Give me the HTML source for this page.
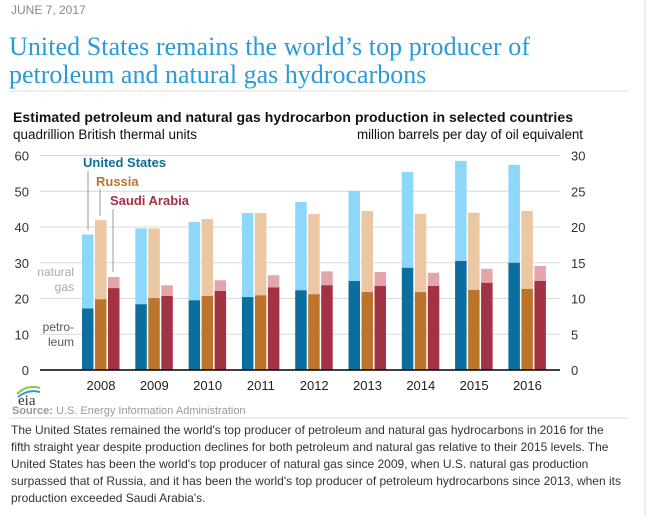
<!DOCTYPE html>
<html><head><meta charset="utf-8"><style>
body{margin:0;background:#fff;width:649px;height:516px;overflow:hidden;font-family:"Liberation Sans",sans-serif;}
</style></head><body>
<svg width="649" height="516" xmlns="http://www.w3.org/2000/svg">
<line x1="645" y1="0" x2="645" y2="516" stroke="#ddd"/>
<text x="11" y="14" font-size="12" fill="#888">JUNE 7, 2017</text>
<text x="9" y="55" font-family="Liberation Serif,serif" font-size="26" fill="#2A9BD8" textLength="521">United States remains the world’s top producer of</text>
<text x="9" y="83" font-family="Liberation Serif,serif" font-size="26" fill="#2A9BD8">petroleum and natural gas hydrocarbons</text>
<line x1="9" y1="91" x2="628" y2="91" stroke="#ddd"/>
<text x="13" y="122" font-size="14" font-weight="bold" fill="#111" textLength="560">Estimated petroleum and natural gas hydrocarbon production in selected countries</text>
<text x="13" y="139" font-size="13.5" fill="#111" textLength="184">quadrillion British thermal units</text>
<text x="357" y="139" font-size="13.4" fill="#111" textLength="226">million barrels per day of oil equivalent</text>
<g id="chart"></g>
<text x="83" y="167" font-size="13" font-weight="bold" fill="#0B6E9F">United States</text>
<text x="96" y="186" font-size="13" font-weight="bold" fill="#BC742B">Russia</text>
<text x="110" y="205" font-size="13" font-weight="bold" fill="#A23244">Saudi Arabia</text>
<line x1="88" y1="171" x2="88" y2="230" stroke="#999"/>
<line x1="100" y1="189" x2="100" y2="216" stroke="#999"/>
<line x1="113" y1="209" x2="113" y2="272" stroke="#999"/>
<text x="74" y="276" font-size="12" fill="#aaa" text-anchor="end">natural</text>
<text x="74" y="291" font-size="12" fill="#aaa" text-anchor="end">gas</text>
<text x="74" y="331" font-size="12" fill="#555" text-anchor="end">petro-</text>
<text x="74" y="346" font-size="12" fill="#555" text-anchor="end">leum</text>
<g>
<path d="M17 394 Q27 384 40 388" stroke="#8DC63F" stroke-width="2" fill="none"/>
<path d="M18 397 Q28 389 40 392" stroke="#2A9BD8" stroke-width="2" fill="none"/>
<text x="18" y="405" font-family="Liberation Serif,serif" font-size="15" fill="#333">eia</text>
</g>
<text x="12" y="414" font-size="11" fill="#999"><tspan font-weight="bold">Source:</tspan> U.S. Energy Information Administration</text>
<line x1="9" y1="418" x2="628" y2="418" stroke="#ddd"/>
<g font-size="12" fill="#333">
<text x="11" y="434">The United States remained the world's top producer of petroleum and natural gas hydrocarbons in 2016 for the</text>
<text x="11" y="451">fifth straight year despite production declines for both petroleum and natural gas relative to their 2015 levels. The</text>
<text x="11" y="468">United States has been the world's top producer of natural gas since 2009, when U.S. natural gas production</text>
<text x="11" y="485">surpassed that of Russia, and it has been the world's top producer of petroleum hydrocarbons since 2013, when its</text>
<text x="11" y="502">production exceeded Saudi Arabia's.</text>
</g>
</svg>
<script>
const years=["2008","2009","2010","2011","2012","2013","2014","2015","2016"];
const usPet=[17.2,18.4,19.5,20.4,22.3,24.9,28.6,30.5,30.0];
const usTot=[37.9,39.6,41.4,43.9,47.0,50.1,55.4,58.5,57.4];
const ruPet=[19.8,20.1,20.7,20.9,21.2,21.8,21.8,22.4,22.7];
const ruTot=[41.9,39.6,42.2,43.9,43.6,44.5,43.7,44.0,44.5];
const saPet=[22.9,20.7,22.1,23.1,23.7,23.5,23.5,24.4,24.9];
const saTot=[26.0,23.7,25.1,26.5,27.6,27.4,27.2,28.3,29.1];
const leftTicks=[0,10,20,30,40,50,60];
const rightTicks=[0,5,10,15,20,25,30];
const NS="http://www.w3.org/2000/svg";
const g=document.getElementById('chart');
const y0=370,pxPer=(370-155.5)/60;
function y(v){return y0-v*pxPer;}
function gx(i){return 82+i*53.3;}
function mk(tag,attrs){const e=document.createElementNS(NS,tag);for(const k in attrs)e.setAttribute(k,attrs[k]);g.appendChild(e);return e;}
leftTicks.forEach((t,i)=>{
  const l=mk('line',{x1:40,x2:560,y1:y(t),y2:y(t),stroke:'#d9d9d9'});
  
  
  const tx=mk('text',{x:29,y:y(t)+5,'font-size':13,fill:'#333','text-anchor':'end'});tx.textContent=t;
  
  
  const rt=mk('text',{x:571,y:y(rightTicks[i]*2)+5,'font-size':13,fill:'#333'});rt.textContent=rightTicks[i];
  
  
});
const series=[[usPet,usTot,'#0B6E9F','#8DD8F8','us'],[ruPet,ruTot,'#BC742B','#EBC7A3','russia'],[saPet,saTot,'#A23244','#E2A5AC','saudi']];
years.forEach((yr,i)=>{
  series.forEach((s,j)=>{
    const x=gx(i)+j*13,w=11.5;
    const gas=mk('rect',{x:x,y:y(s[1][i]),width:w,height:y(s[0][i])-y(s[1][i]),fill:s[3]});
    
    
    const pet=mk('rect',{x:x,y:y(s[0][i]),width:w,height:y0-y(s[0][i]),fill:s[2]});
    
    
  });
  const t=mk('text',{x:gx(i)+19,y:390,'font-size':13,fill:'#222','text-anchor':'middle'});t.textContent=yr;
  
  
});
const ax=mk('line',{x1:40,x2:560,y1:y0,y2:y0,stroke:'#000','stroke-width':1.5});


</script>
</body></html>
